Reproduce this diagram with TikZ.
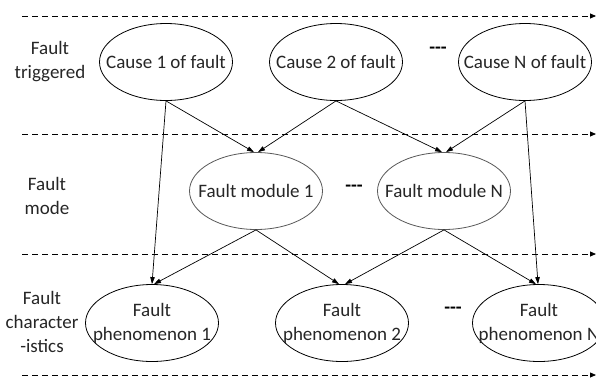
\documentclass[tikz,border=0pt]{standalone}
\usepackage{fontspec}
\setmainfont{Carlito}
\usetikzlibrary{shapes.geometric,arrows.meta,calc}
\tikzset{
  lbl/.style={align=center,font=\fontsize{19}{24}\selectfont,text=black!85,inner sep=0pt},
  ell/.style={ellipse,draw=black,line width=0.8pt,minimum width=133pt,minimum height=77pt,inner sep=0pt},
  mell/.style={ell,draw=black!65},
  lane/.style={dash pattern=on 6pt off 4pt,line width=0.8pt,-{Triangle[length=6pt,width=5pt]}},
  conn/.style={line width=0.7pt,-{Triangle[length=7pt,width=4.5pt]}},
  dots/.style={font=\bfseries\fontsize{19}{24}\selectfont}
}
\begin{document}
\begin{tikzpicture}[x=1pt,y=-1pt]
\clip (0,0) rectangle (596,378);
\fill[white] (0,0) rectangle (596,378);
% lanes
\coordinate (l1a) at (22,16); \coordinate (l1b) at (596,16);
\coordinate (l2a) at (22,134); \coordinate (l2b) at (596,134);
\coordinate (l3a) at (22,254); \coordinate (l3b) at (596,254);
\coordinate (l4a) at (22,375); \coordinate (l4b) at (596,375);
\draw[lane] (l1a) -- (l1b);
\draw[lane] (l2a) -- (l2b);
\draw[lane] (l3a) -- (l3b);
\draw[lane] (l4a) -- (l4b);
% labels
\node[lbl] (t1) at (50,62) {Fault\\triggered};
\node[lbl] (t2) at (47,196) {Fault\\mode};
\node[lbl] (t3) at (42,322) {Fault\\character\\-istics};
% causes
\node[ell,label={[lbl]center:Cause 1 of fault}] (c1) at (166,62) {};
\node[ell,label={[lbl]center:Cause 2 of fault}] (c2) at (336,62) {};
\node[ell,label={[lbl]center:Cause N of fault}] (cn) at (525,62) {};
\node[dots] (d1) at (438,50) {-{}-{}-};
% modules
\node[mell,label={[lbl]center:Fault module 1}] (m1) at (256,191) {};
\node[mell,label={[lbl]center:Fault module N}] (mn) at (444,191) {};
\node[dots] (d2) at (354,188) {-{}-{}-};
% phenomena
\node[ell,label={[lbl]center:Fault\\phenomenon 1}] (p1) at (152,323) {};
\node[ell,label={[lbl]center:Fault\\phenomenon 2}] (p2) at (342,323) {};
\node[ell,label={[lbl]center:Fault\\phenomenon N}] (pn) at (539,323) {};
\node[dots] (d3) at (453,310) {-{}-{}-};
% connectors
\draw[conn] (c1.south) -- ($(p1.north)+(0,0)$);
\draw[conn] (c1.south) -- ($(m1.north)+(-2,0)$);
\draw[conn] (c2.south) -- ($(m1.north)+(2,0)$);
\draw[conn] (c2.south) -- ($(mn.north)+(-2,0)$);
\draw[conn] (cn.south) -- ($(mn.north)+(2,0)$);
\draw[conn] (cn.south) -- ($(pn.north)+(-1,0)$);
\draw[conn] (m1.south) -- ($(p1.north)+(2,0)$);
\draw[conn] (m1.south) -- ($(p2.north)+(-3,0)$);
\draw[conn] (mn.south) -- ($(p2.north)+(3,0)$);
\draw[conn] (mn.south) -- ($(pn.north)+(-3,0)$);
\end{tikzpicture}
\end{document}
